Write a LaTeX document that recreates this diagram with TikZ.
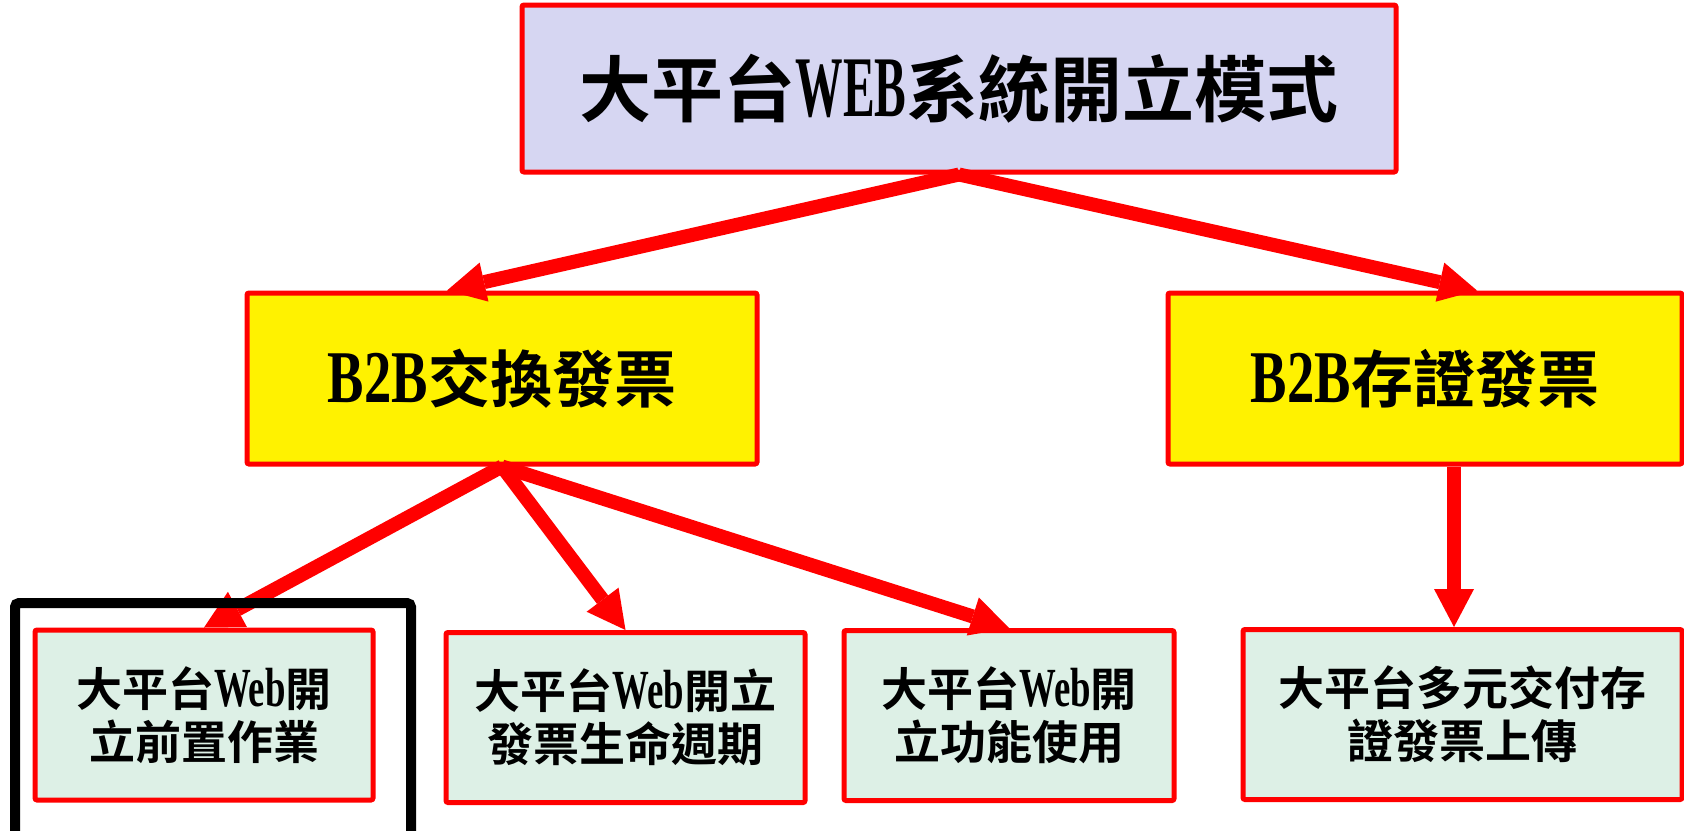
\documentclass[tikz,border=0pt]{standalone}
\usepackage{fontspec}
\setmainfont{Noto Sans CJK TC}[BoldFont=* Bold]
\newfontfamily\latn{Liberation Serif}
\usepackage{graphicx}
\usepackage{tikz}
\usetikzlibrary{arrows.meta}

\definecolor{titlefill}{RGB}{214,214,242}
\definecolor{leaffill}{RGB}{221,240,230}
\newcommand\lat[2][0.8]{{\latn\bfseries\scalebox{#1}[1.2]{#2}}}

\begin{document}
\begin{tikzpicture}[x=0.5pt,y=-0.5pt,>={Triangle[length=19pt,width=20pt,line width=0pt]},
  box/.style={draw=red,line width=2.5pt,rounded corners=1pt,inner sep=0pt,align=center},
  topbox/.style={box,fill=titlefill,font=\fontsize{36}{40}\selectfont\bfseries},
  midbox/.style={box,fill=yellow,minimum height=85.5pt,font=\fontsize{31}{36}\selectfont\bfseries},
  leafbox/.style={box,fill=leaffill,minimum height=85pt,font=\fontsize{23}{26.5}\selectfont\bfseries},
  flow/.style={every edge/.style={draw,color=red,line width=7pt}}]

  \useasboundingbox[fill=white] (0,0) rectangle (1684,830);

  \node[topbox,minimum width=437pt,minimum height=83.5pt] (web)  at (959,88.5)  {大平台\lat[0.66]{WEB}系統開立模式};
  \node[midbox,minimum width=255pt]   (xchg)   at (502,378.5)  {\lat[0.88]{B2B}交換發票};
  \node[midbox,minimum width=257pt]   (store)  at (1425,378.5) {\lat[0.88]{B2B}存證發票};
  \node[leafbox,minimum width=169pt]  (pre)    at (204,715)    {大平台\lat{Web}開\\立前置作業};
  \node[leafbox,minimum width=179.5pt](life)   at (625.5,717.5){大平台\lat{Web}開立\\發票生命週期};
  \node[leafbox,minimum width=165pt]  (func)   at (1009,715.5) {大平台\lat{Web}開\\立功能使用};
  \node[leafbox,minimum width=219.5pt](upload) at (1462.5,714.5){大平台多元交付存\\證發票上傳};

  \path [->,flow]
        (web.south)  edge ([xshift=-27.5pt]xchg.north)
                     edge ([xshift=26pt]store.north)
        (xchg.south) edge (pre.north)
                     edge (life.north)
                     edge (func.north)
        ([xshift=14.5pt]store.south) edge ([xshift=-4.25pt]upload.north);

  % highlight
  \draw[line width=5pt,rounded corners=2pt] (15,603) rectangle (411,860);
\end{tikzpicture}
\end{document}
